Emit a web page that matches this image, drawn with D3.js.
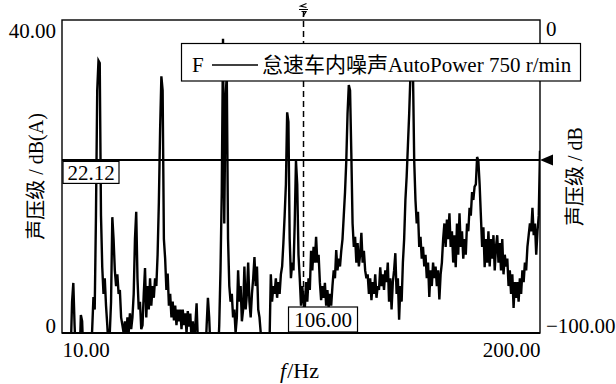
<!DOCTYPE html>
<html>
<head>
<meta charset="utf-8">
<script src="https://cdn.jsdelivr.net/npm/d3@7"></script>
<style>
  html, body { margin: 0; padding: 0; background: #fff; }
  svg { display: block; }
</style>
</head>
<body>
<script>
// Interior noise spectrum at idle, 750 r/min (AutoPower), 0.5 Hz resolution
const freqStart = 10;
const freqStep = 0.5;
const levels = [
  -5,-4,-6,-5,-3,-5,-4,-2,4,6.4,          // 10.0 - 14.5
  1,-3,-4,-2,-3,2.3,1.5,-3,-4,-2,         // 15.0 - 19.5
  -3,-4,-2,-3,0.5,4.6,3,15,31,34.8,       // 20.0 - 24.5
  34.5,15,8.4,5,7,3.5,1,-2,0,4,           // 25.0 - 29.5
  14.8,12,8,6,7.5,5,5.5,2,1,0,            // 30.0 - 34.5
  1.5,-1,2,0,2.5,0.5,2,5,12,15.5,         // 35.0 - 39.5
  7,3,4,0.5,1,5,8.3,2,6,3,                // 40.0 - 44.5
  7,3.5,6,4.5,7,6,10,16.7,26,32.8,        // 45.0 - 49.5
  31,12,9.5,5.5,7.6,3.5,5,2,4,1.6,        // 50.0 - 54.5
  3.5,1,3,1.5,3,0.5,3,1,2.5,0,            // 55.0 - 59.5
  2.8,0.8,2.5,-1,1.5,-2,1,3.8,-1,-4,      // 60.0 - 64.5
  -3,-4,-2,-4,-3,1,4.5,2,-2,-4,           // 65.0 - 69.5
  -3,-4,-2,-4,-3,1,8,18,37.6,14,          // 70.0 - 74.5
  30,33,12,6,4,5,2,3,0,2,                 // 75.0 - 79.5
  8,4,6,1.5,3,8.5,3,5,9,4,                // 80.0 - 84.5
  2,5,7,9.7,6,8.5,3,2,0,-2,               // 85.0 - 89.5
  -4,-3,-5,-3,-4,-1,7.5,4,6,5,            // 90.0 - 94.5
  7,4.5,6.5,5,7.5,8.5,11.5,15,19,28.2,    // 95.0 - 99.5
  27,12,7,9,8,14,22,19,10,7,              // 100.0 - 104.5
  3.5,6,4,3,6.5,4,7,5.5,10.5,8,           // 105.0 - 109.5
  11,9,12.3,9,10,6.5,4.2,6,4.5,6.4,       // 110.0 - 114.5
  3.5,5.5,3.3,5,3.5,6,8,7,10.6,8,         // 115.0 - 119.5
  9.5,8.5,10.5,12,15,18,22,28,31.7,31,    // 120.0 - 124.5
  23,14,11,12.3,9,11.5,8.5,10,12.8,9,     // 125.0 - 129.5
  10.5,8,7,7.5,5,7,4.2,6.5,5,7.5,         // 130.0 - 134.5
  4.5,6,5.5,8.4,6,7.5,5.5,8,6.5,9,        // 135.0 - 139.5
  4,7,3,6.5,8,10.2,5,7,1.7,6,             // 140.0 - 144.5
  4,9,12,17,20,24,28,33,34,33.5,          // 145.0 - 149.5
  22,17,14,15.5,11,12.3,9.5,11,8.5,10,    // 150.0 - 154.5
  7,9,4.6,8,6,9,7,8.5,6,8,                // 155.0 - 159.5
  4.3,7.5,9,12,14,11,14.5,12,15.3,11,     // 160.0 - 164.5
  13,9,12.5,8.4,14,10,15.3,11,13,9.5,     // 165.0 - 169.5
  12,10,14,13,16,15,18,17,18.7,19,        // 170.0 - 174.5
  22.5,22,19,15,11,13.5,8.4,12,9,13,      // 175.0 - 179.5
  8.5,12,9.5,12.5,8,11,12.5,9,11.5,8,     // 180.0 - 184.5
  12,7.5,10,8.5,9.5,6,8,5,7.5,3.2,        // 185.0 - 189.5
  6.5,4.5,6.5,4,7,5,8,6.5,9,8,            // 190.0 - 194.5
  11,12.5,14,13,16,12.5,14,10,13,15,      // 195.0 - 199.5
  23.3                                    // 200.0
];

const xDomain = [10, 200];
const yLeftDomain = [0, 40];
const yRightDomain = [-100, 0];
const xTicks = [10, 200];
const yLeftTicks = [0, 40];
const yRightTicks = [-100, 0];

const cursorFreq = 106.00;
const cursorLevel = 22.12;

const legendText = "怠速车内噪声AutoPower 750 r/min";
const yLeftTitle = "声压级 / dB(A)";
const yRightTitle = "声压级 / dB";

// ---- layout ----
const W = 616, H = 384;
const plot = { left: 62, right: 540, top: 20, bottom: 333 };
const serif = "'Liberation Serif','Times New Roman','Noto Sans CJK SC',serif";

const x = d3.scaleLinear().domain(xDomain).range([plot.left, plot.right]);
const yL = d3.scaleLinear().domain(yLeftDomain).range([plot.bottom, plot.top]);
const yR = d3.scaleLinear().domain(yRightDomain).range([plot.bottom, plot.top]);

const svg = d3.select("body").append("svg")
  .attr("width", W).attr("height", H)
  .style("font-family", serif);

const data = levels.map((v, i) => ({ f: freqStart + i * freqStep, v }));

svg.append("defs").append("clipPath").attr("id", "plotClip")
  .append("rect")
  .attr("x", plot.left).attr("y", plot.top)
  .attr("width", plot.right - plot.left).attr("height", plot.bottom - plot.top);

// spectrum trace
svg.append("path")
  .datum(data)
  .attr("clip-path", "url(#plotClip)")
  .attr("fill", "none")
  .attr("stroke", "#000")
  .attr("stroke-width", 2.4)
  .attr("stroke-linejoin", "miter")
  .attr("d", d3.line().x(d => x(d.f)).y(d => yL(d.v)));

// vertical frequency cursor
const cx = x(cursorFreq);
svg.append("line")
  .attr("x1", cx).attr("x2", cx)
  .attr("y1", 11).attr("y2", plot.bottom)
  .attr("stroke", "#000").attr("stroke-width", 1.5)
  .attr("stroke-dasharray", "6,4");

// cursor handle glyph above the frame
svg.append("path")
  .attr("d", `M${cx + 3},3.5 L${cx - 3},6 L${cx + 3},7.5 M${cx - 4.5},9.5 H${cx + 4.5} M${cx - 2},11.5 H${cx + 2.5} L${cx - 0.5},16.5`)
  .attr("fill", "none").attr("stroke", "#000").attr("stroke-width", 1.2);

// horizontal level cursor
const cy = yL(cursorLevel);
svg.append("line")
  .attr("x1", plot.left).attr("x2", plot.right)
  .attr("y1", cy).attr("y2", cy)
  .attr("stroke", "#000").attr("stroke-width", 2);
svg.append("path")
  .attr("d", `M${plot.right},${cy} L${plot.right + 13},${cy - 5.5} L${plot.right + 13},${cy + 5.5} Z`)
  .attr("fill", "#000");

// frame
svg.append("rect")
  .attr("x", plot.left).attr("y", plot.top)
  .attr("width", plot.right - plot.left).attr("height", plot.bottom - plot.top)
  .attr("fill", "none").attr("stroke", "#000").attr("stroke-width", 1.4);
svg.append("line")
  .attr("x1", plot.left).attr("x2", plot.right)
  .attr("y1", plot.bottom).attr("y2", plot.bottom)
  .attr("stroke", "#000").attr("stroke-width", 2.2);

// axes (labels only)
const fmt = d => d === 0 ? "0" : d3.format(".2f")(d).replace("-", "\u2212");

const gL = svg.append("g").attr("transform", `translate(${plot.left},0)`)
  .call(d3.axisLeft(yL).tickValues(yLeftTicks).tickSize(0).tickPadding(6).tickFormat(fmt));
const gR = svg.append("g").attr("transform", `translate(${plot.right},0)`)
  .call(d3.axisRight(yR).tickValues(yRightTicks).tickSize(0).tickPadding(6).tickFormat(fmt));
const gB = svg.append("g").attr("transform", `translate(0,${plot.bottom})`)
  .call(d3.axisBottom(x).tickValues(xTicks).tickSize(0).tickPadding(9).tickFormat(d3.format(".2f")));

[gL, gR, gB].forEach(g => {
  g.select(".domain").remove();
  g.selectAll("text").attr("font-family", serif).attr("font-size", 21).attr("fill", "#000");
});
gL.selectAll("text").attr("dy", d => d === yLeftDomain[1] ? 17 : -1);
gR.selectAll("text").attr("dy", d => d === yRightDomain[1] ? 15 : -1);
gB.selectAll("text").attr("text-anchor", d => d === xDomain[0] ? "start" : "end");

// axis titles
const xt = svg.append("text")
  .attr("x", 280).attr("y", 378)
  .attr("font-size", 22).attr("fill", "#000");
xt.append("tspan").attr("font-style", "italic").text("f");
xt.append("tspan").attr("dx", 1).text("/Hz");

svg.append("text")
  .attr("transform", `translate(43,${(plot.top + plot.bottom) / 2}) rotate(-90)`)
  .attr("text-anchor", "middle")
  .attr("font-size", 20).attr("fill", "#000")
  .text(yLeftTitle);

svg.append("text")
  .attr("transform", `translate(582,${(plot.top + plot.bottom) / 2}) rotate(-90)`)
  .attr("text-anchor", "middle")
  .attr("font-size", 20).attr("fill", "#000")
  .text(yRightTitle);

// cursor readouts
function readout(bx, by, bw, bh, txt) {
  svg.append("rect")
    .attr("x", bx).attr("y", by).attr("width", bw).attr("height", bh)
    .attr("fill", "#fff").attr("stroke", "#000").attr("stroke-width", 1.2);
  svg.append("text")
    .attr("x", bx + bw / 2).attr("y", by + bh / 2)
    .attr("dy", "0.35em")
    .attr("text-anchor", "middle")
    .attr("font-size", 21).attr("fill", "#000")
    .text(txt);
}
readout(plot.left + 1, cy + 1.5, 56, 22, cursorLevel.toFixed(2));
readout(cx - 15, plot.bottom - 26, 69, 25, cursorFreq.toFixed(2));

// legend
const lg = svg.append("g");
lg.append("rect")
  .attr("x", 181.5).attr("y", 43.5).attr("width", 399).attr("height", 37.5)
  .attr("fill", "#fff").attr("stroke", "#000").attr("stroke-width", 1.2);
lg.append("text").attr("x", 192).attr("y", 72)
  .attr("font-size", 21).attr("fill", "#000").text("F");
lg.append("line")
  .attr("x1", 212).attr("x2", 258).attr("y1", 65).attr("y2", 65)
  .attr("stroke", "#000").attr("stroke-width", 1.5);
lg.append("text").attr("x", 262).attr("y", 72)
  .attr("font-size", 21).attr("fill", "#000").text(legendText);
</script>
</body>
</html>
